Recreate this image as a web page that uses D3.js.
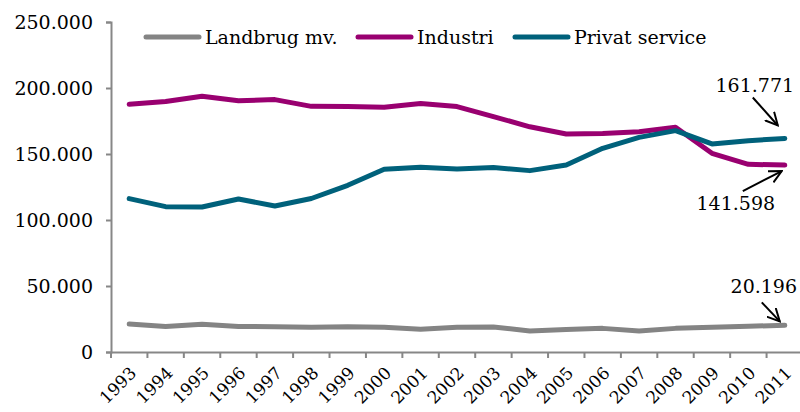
<!DOCTYPE html>
<html>
<head>
<meta charset="utf-8">
<script src="https://cdn.jsdelivr.net/npm/d3@7"></script>
<style>
  body { margin: 0; background: #fff; }
  svg text { font-family: "DejaVu Serif", Georgia, serif; fill: #000; }
</style>
</head>
<body>
<svg id="chart" width="800" height="412"></svg>
<script>
const years = [1993, 1994, 1995, 1996, 1997, 1998, 1999, 2000, 2001, 2002,
  2003, 2004, 2005, 2006, 2007, 2008, 2009, 2010, 2011];

const landbrug = [21200, 19300, 21100, 19300, 19200, 18700, 19200, 18800, 17300, 18700,
  19000, 15900, 17100, 17900, 15900, 17900, 18700, 19500, 20196];
const industri = [187700, 189700, 193800, 190400, 191200, 186100, 185900, 185400, 188300, 185900,
  178300, 170600, 165100, 165600, 166900, 170200, 150500, 142200, 141598];
const privat = [116200, 110100, 109800, 115900, 110600, 116300, 126300, 138400, 139900, 138600,
  139800, 137400, 141700, 154300, 162600, 167700, 157600, 160100, 161771];

const seriesNames = ['Landbrug mv.', 'Industri', 'Privat service'];
const seriesColors = ['#848484', '#990070', '#00617b'];
const yTicks = [0, 50000, 100000, 150000, 200000, 250000];

const svg = d3.select('#chart');

const xScale = d3.scaleBand().domain(years).range([111, 803]);
const yScale = d3.scaleLinear().domain([0, 250000]).range([352, 22]);
const cx = d => xScale(d) + xScale.bandwidth() / 2;

const da = d3.formatLocale({ decimal: ',', thousands: '.', grouping: [3], currency: ['', ' kr.'] });
const fmt = da.format(',');

// y axis
const yAxis = svg.append('g')
  .attr('transform', 'translate(111,0)')
  .call(d3.axisLeft(yScale).tickValues(yTicks).tickSize(5).tickPadding(13).tickFormat(fmt));
yAxis.select('.domain').attr('stroke', '#878787').attr('stroke-width', 2);
yAxis.selectAll('.tick line').attr('stroke', '#878787').attr('stroke-width', 2);
yAxis.selectAll('.tick text').style('font-size', '19px')
  .style('font-family', '"DejaVu Serif", serif');

// x axis
const xAxis = svg.append('g')
  .attr('transform', 'translate(0,352)')
  .call(d3.axisBottom(xScale).tickSize(0).tickSizeOuter(0));
xAxis.select('.domain').attr('stroke', '#878787').attr('stroke-width', 2);
xAxis.selectAll('.tick text')
  .style('font-size', '17px')
  .style('font-family', '"DejaVu Serif", serif')
  .attr('text-anchor', 'end')
  .attr('y', 0)
  .attr('dy', '0.35em')
  .attr('transform', 'translate(4,18) rotate(-45)');

xAxis.selectAll('.boundary')
  .data(years)
  .join('line')
  .attr('x1', d => xScale(d)).attr('x2', d => xScale(d))
  .attr('y1', 0).attr('y2', 6)
  .attr('stroke', '#878787').attr('stroke-width', 2);

// lines
const allSeries = [landbrug, industri, privat];
const line = d3.line()
  .x((d, i) => cx(years[i]))
  .y(d => yScale(d));

svg.selectAll('.series')
  .data(allSeries)
  .join('path')
  .attr('fill', 'none')
  .attr('stroke', (d, i) => seriesColors[i])
  .attr('stroke-width', 5)
  .attr('stroke-linecap', 'round')
  .attr('stroke-linejoin', 'round')
  .attr('d', line);

// legend
const legendX = [146, 358, 515];
const legend = svg.selectAll('.legend')
  .data(seriesNames)
  .join('g')
  .attr('transform', (d, i) => `translate(${legendX[i]},37)`);
legend.append('line')
  .attr('x1', 0).attr('x2', 53)
  .attr('stroke', (d, i) => seriesColors[i])
  .attr('stroke-width', 5)
  .attr('stroke-linecap', 'round');
legend.append('text')
  .attr('x', 59).attr('dy', '0.35em')
  .style('font-size', '19px')
  .text(d => d);

// end-value annotations with open arrow heads
svg.append('defs').append('marker')
  .attr('id', 'arrow')
  .attr('viewBox', '0 0 10 10')
  .attr('refX', 9).attr('refY', 5)
  .attr('markerWidth', 14).attr('markerHeight', 14)
  .attr('markerUnits', 'userSpaceOnUse')
  .attr('orient', 'auto')
  .append('path')
  .attr('d', 'M0,0.5 L9,5 L0,9.5')
  .attr('fill', 'none').attr('stroke', '#000').attr('stroke-width', 1.4);

const last = years[years.length - 1];
const notes = [
  { v: privat[privat.length - 1], tx: -30, ty: -46, ax: -32, ay: -41, bx: -7, by: -13 },
  { v: industri[industri.length - 1], tx: -49, ty: 45, ax: -42, ay: 26, bx: -3, by: 6 },
  { v: landbrug[landbrug.length - 1], tx: -21, ty: -32, ax: -23, ay: -23, bx: -5, by: -4 }
];
notes.forEach(n => {
  const px = cx(last), py = yScale(n.v);
  svg.append('line')
    .attr('x1', px + n.ax).attr('y1', py + n.ay)
    .attr('x2', px + n.bx).attr('y2', py + n.by)
    .attr('stroke', '#000').attr('stroke-width', 2)
    .attr('marker-end', 'url(#arrow)');
  svg.append('text')
    .attr('x', px + n.tx).attr('y', py + n.ty)
    .attr('text-anchor', 'middle')
    .style('font-size', '19px')
    .text(fmt(n.v));
});
</script>
</body>
</html>
